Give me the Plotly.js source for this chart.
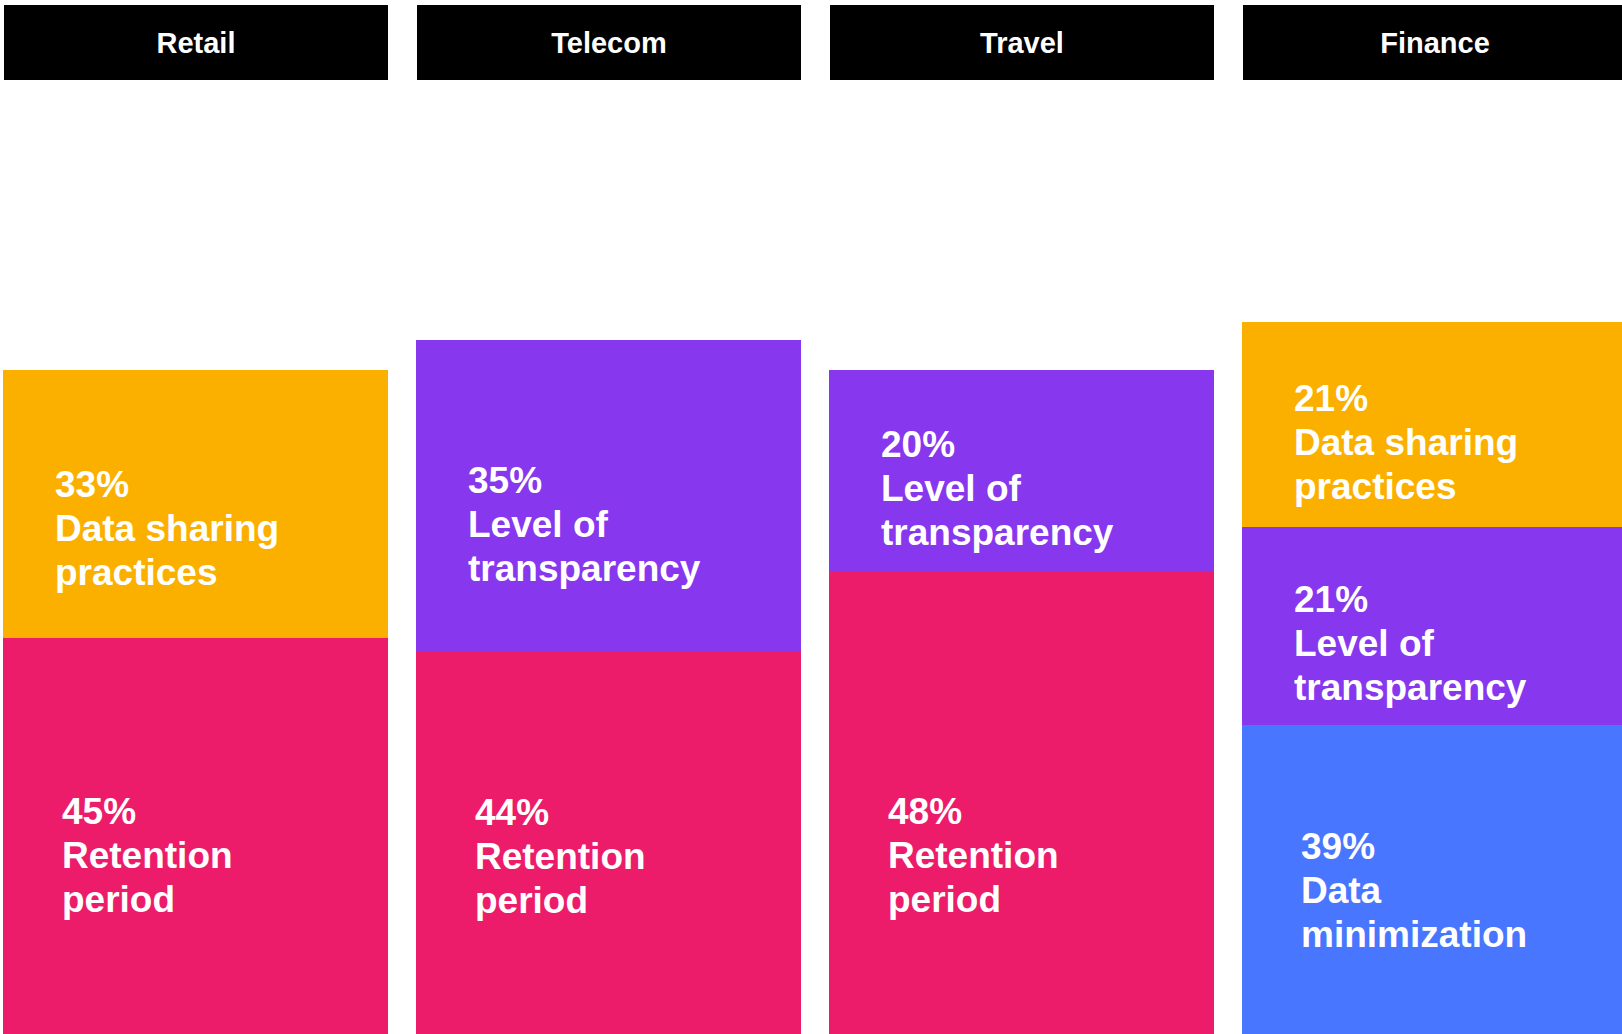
<!DOCTYPE html>
<html>
<head>
<meta charset="utf-8">
<script src="https://cdn.plot.ly/plotly-3.0.1.min.js"></script>
<style>
  html, body { margin: 0; padding: 0; background: #ffffff; }
  #chart { width: 1622px; height: 1034px; }
</style>
</head>
<body>
<div id="chart"></div>
<script>
// Categories (column headers)
var sectors = ['Retail', 'Telecom', 'Travel', 'Finance'];

// Drawn segment sizes (bars are not to scale with the %)
var retentionH    = [39.6, 38.2, 46.3, null];
var minimizationH = [null, null, null, 30.9];
var transparencyH = [null, 31.2, 20.1, 19.8];
var sharingH      = [26.8, null, null, 20.5];

// Percent labels shown inside each segment
var retentionPct    = [45, 44, 48, null];
var minimizationPct = [null, null, null, 39];
var transparencyPct = [null, 35, 20, 21];
var sharingPct      = [33, null, null, 21];

// Series names (wrapped as in the picture) and colours, bottom to top
var seriesNames  = ['Retention<br>period', 'Data<br>minimization', 'Level of<br>transparency', 'Data sharing<br>practices'];
var seriesColors = ['#EC1C6A', '#4876FE', '#8737EE', '#FBB000'];

var heights = [retentionH, minimizationH, transparencyH, sharingH];
var pcts    = [retentionPct, minimizationPct, transparencyPct, sharingPct];

var CHART = document.getElementById('chart');
var barWidth = 0.93;

var data = [];
for (var s = 0; s < heights.length; s++) {
    data.push({
        x: sectors,
        y: heights[s],
        name: seriesNames[s].replace('<br>', ' '),
        type: 'bar',
        width: barWidth,
        marker: { color: seriesColors[s], line: { width: 0 } },
        hoverinfo: 'none',
        showlegend: false
    });
}

var annotations = [];
var labelFont = { family: 'Liberation Sans, Arial, sans-serif', size: 37, color: '#ffffff' };

// segment labels: percentage on the first line, wrapped series name below
// (bottom segments keep their label at a common height, capped)
var base = [0, 0, 0, 0];
for (var s = 0; s < heights.length; s++) {
    for (var i = 0; i < sectors.length; i++) {
        var h = heights[s][i];
        if (h === null) continue;
        var isBottom = base[i] === 0;
        var mid = isBottom ? Math.min(h * 0.465, 17.85) : h * 0.41;
        var lines = [pcts[s][i] + '%'].concat(seriesNames[s].split('<br>'));
        for (var k = 0; k < lines.length; k++) {
            annotations.push({
                x: sectors[i],
                y: base[i] + mid,
                xref: 'x',
                yref: 'y',
                text: '<b>' + lines[k] + '</b>',
                showarrow: false,
                xanchor: 'left',
                yanchor: 'middle',
                align: 'left',
                xshift: isBottom ? -134 : -141,
                yshift: 44 * (1 - k),
                borderpad: 0,
                borderwidth: 0,
                font: labelFont
            });
        }
        base[i] += h;
    }
}

// black header boxes
for (var i = 0; i < sectors.length; i++) {
    annotations.push({
        x: sectors[i],
        y: 1 - 5 / 1034,
        xref: 'x',
        yref: 'paper',
        xanchor: 'center',
        yanchor: 'top',
        text: '<b>' + sectors[i] + '</b>',
        showarrow: false,
        bgcolor: '#000000',
        width: 384,
        height: 75,
        borderpad: 0,
        borderwidth: 0,
        align: 'center',
        valign: 'middle',
        font: { family: 'Liberation Sans, Arial, sans-serif', size: 29, color: '#ffffff' }
    });
}

var layout = {
    width: 1622,
    height: 1034,
    margin: { l: 0, r: 0, t: 0, b: 0, pad: 0 },
    paper_bgcolor: '#ffffff',
    plot_bgcolor: '#ffffff',
    barmode: 'stack',
    showlegend: false,
    xaxis: {
        type: 'category',
        range: [-0.4734, 3.454],
        visible: false,
        fixedrange: true
    },
    yaxis: {
        range: [0, 103.4],
        visible: false,
        fixedrange: true
    },
    annotations: annotations
};

var config = {
    displayModeBar: false,
    staticPlot: true
};

Plotly.newPlot(CHART, data, layout, config);
</script>
</body>
</html>
